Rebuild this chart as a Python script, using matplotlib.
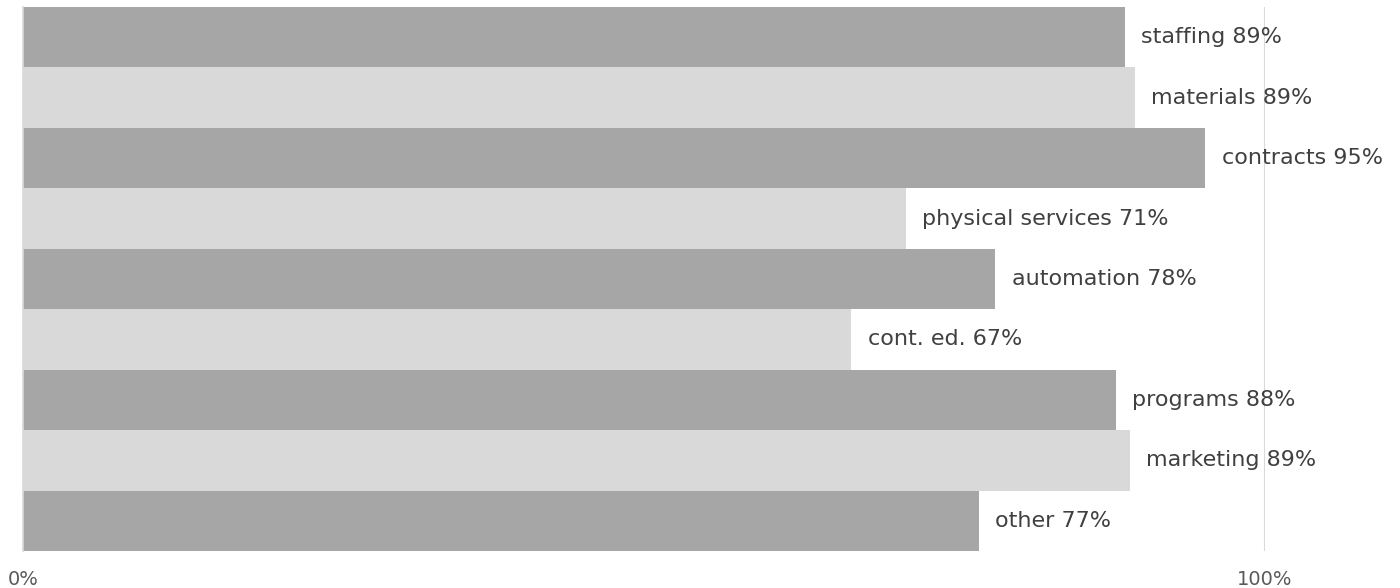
import numpy as np
import matplotlib.pyplot as plt

categories = ["staffing", "materials", "contracts", "physical services", "automation",
              "cont. ed.", "programs", "marketing", "other"]
values = [0.887, 0.895, 0.952, 0.711, 0.783, 0.667, 0.880, 0.891, 0.770]
shown_pct = [89, 89, 95, 71, 78, 67, 88, 89, 77]
bar_colors = ["#a6a6a6", "#d9d9d9"]

fig = plt.figure(figsize=(14, 5.88), dpi=100)
ax = fig.add_axes([23 / 1400, 37 / 588, 1242 / 1400, 544 / 588])

y = np.arange(len(categories))
colors = [bar_colors[i % 2] for i in range(len(categories))]
ax.barh(y, values, height=1.0, color=colors, edgecolor="none")

for yi, v, name, p in zip(y, values, categories, shown_pct):
    ax.text(v + 0.013, yi, f"{name} {p}%", va="center", ha="left",
            fontsize=16, color="#404040", clip_on=False)

ax.set_xlim(0, 1)
ax.set_ylim(len(categories) - 0.5, -0.5)
ax.axvline(1.0, color="#d9d9d9", lw=1.5, zorder=0)

for s in ["top", "right", "bottom"]:
    ax.spines[s].set_visible(False)
ax.spines["left"].set_color("#d9d9d9")
ax.spines["left"].set_linewidth(1.2)

ax.set_yticks([])
ax.set_xticks([0, 1])
ax.set_xticklabels(["0%", "100%"])
ax.tick_params(axis="x", length=0, pad=14, labelsize=14, labelcolor="#595959")

fig.savefig("out.png", dpi=100)
